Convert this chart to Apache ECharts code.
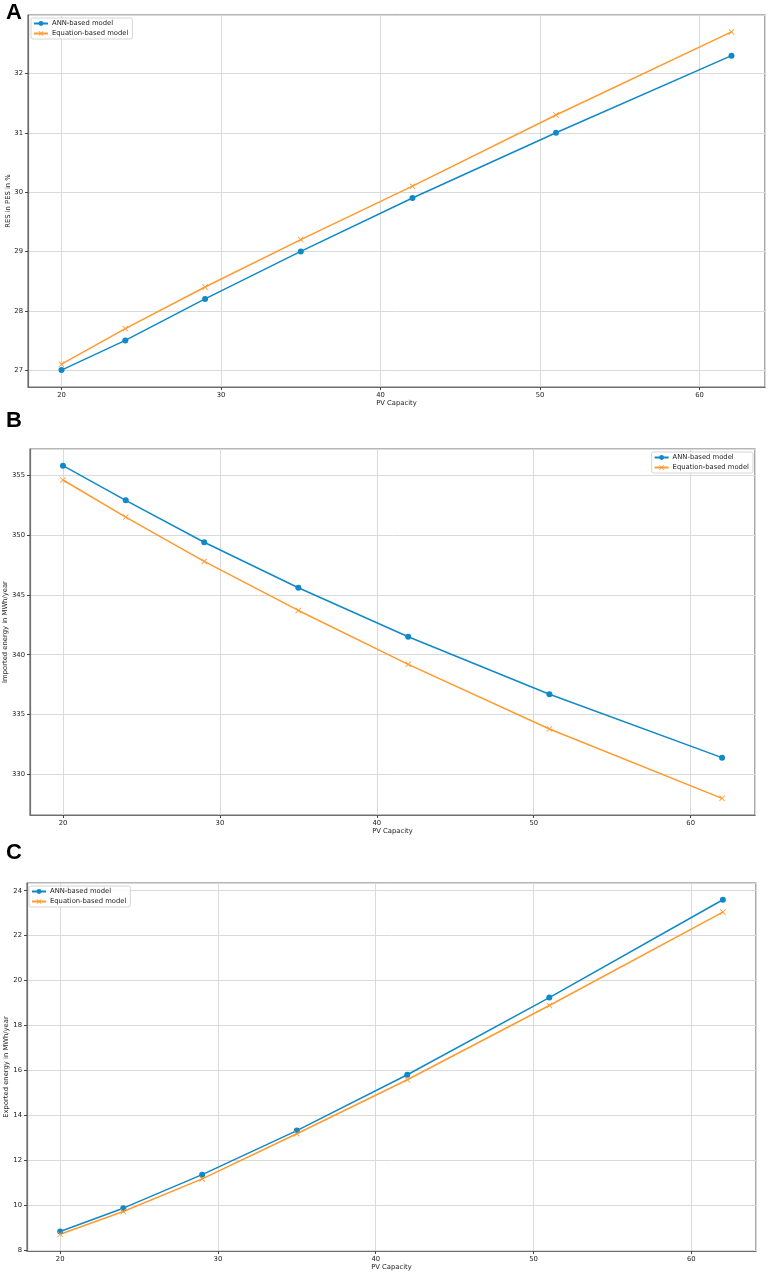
<!DOCTYPE html>
<html>
<head>
<meta charset="utf-8">
<script src="https://cdn.jsdelivr.net/npm/echarts@6/dist/echarts.min.js"></script>
<style>
  html, body { margin: 0; padding: 0; background: #fff; }
  #chart { width: 768px; height: 1274px; }
</style>
</head>
<body>
<div id="chart"></div>
<script>
const pvCapacity = [20, 24, 29, 35, 42, 51, 62];

const resAnn = [27.0, 27.5, 28.2, 29.0, 29.9, 31.0, 32.3];
const resEq = [27.1, 27.7, 28.4, 29.2, 30.1, 31.3, 32.7];

const importedAnn = [355.8, 352.9, 349.4, 345.6, 341.5, 336.7, 331.4];
const importedEq = [354.6, 351.5, 347.8, 343.7, 339.2, 333.8, 328.0];

const exportedAnn = [8.85, 9.89, 11.38, 13.34, 15.82, 19.25, 23.6];
const exportedEq = [8.73, 9.74, 11.19, 13.2, 15.6, 18.9, 23.05];

const seriesNames = ["ANN-based model", "Equation-based model"];
const panelLetters = ["A", "B", "C"];
const yNames = ["RES in PES in %", "Imported energy in MWh/year", "Exported energy in MWh/year"];
const xName = "PV Capacity";

const BLUE = "#0f89c8";
const ORANGE = "#ff9a2e";
const FONT = "DejaVu Sans";
const FS = 6.8;
const X_MARK = "path://M1,0L5,4L9,0L10,1L6,5L10,9L9,10L5,6L1,10L0,9L4,5L0,1Z";

// matplotlib style 5% margins
function pad(arrs) {
  const all = [].concat(...arrs);
  const lo = Math.min(...all), hi = Math.max(...all);
  const m = (hi - lo) * 0.05;
  return [lo - m, hi + m];
}

const xr = pad([pvCapacity]);
const panels = [
  { ann: resAnn, eq: resEq, step: 1, grid: { left: 28, right: 3, top: 15, bottom: 887 },
    legend: { left: 31, top: 18 }, nameGap: 16.5 },
  { ann: importedAnn, eq: importedEq, step: 5, grid: { left: 30, right: 13, top: 449, bottom: 459 },
    legend: { right: 15, top: 452 }, nameGap: 21 },
  { ann: exportedAnn, eq: exportedEq, step: 2, grid: { left: 27, right: 12, top: 883, bottom: 23 },
    legend: { left: 29, top: 886 }, nameGap: 17 }
];

const chart = echarts.init(document.getElementById("chart"));

const axisCommon = {
  type: "value",
  nameMoveOverlap: false,
  axisLine: { show: true, lineStyle: { color: "#6e6e6e", width: 1.2 } },
  axisTick: { show: true, length: 3, lineStyle: { color: "#444" } },
  axisLabel: { color: "#222", fontSize: FS, fontFamily: FONT, margin: 5, showMinLabel: false, showMaxLabel: false },
  splitLine: { show: true, lineStyle: { color: "#dadada", width: 1 } },
  nameTextStyle: { color: "#222", fontSize: FS, fontFamily: FONT }
};

const grids = [], xAxes = [], yAxes = [], legends = [], series = [], graphics = [];
const letterTops = [2, 410, 842];

panels.forEach((p, i) => {
  const yr = pad([p.ann, p.eq]);
  grids.push(Object.assign({
    show: true, borderColor: "#6e6e6e", borderWidth: 1.2, backgroundColor: "#fff",
    containLabel: false, outerBoundsMode: "none"
  }, p.grid));
  xAxes.push(Object.assign({}, axisCommon, {
    gridIndex: i, min: xr[0], max: xr[1], splitNumber: 5, minInterval: 10, maxInterval: 10,
    name: xName, nameLocation: "middle", nameGap: 13
  }));
  yAxes.push(Object.assign({}, axisCommon, {
    gridIndex: i, min: yr[0], max: yr[1], splitNumber: 8, minInterval: p.step, maxInterval: p.step,
    name: yNames[i], nameLocation: "middle", nameGap: p.nameGap
  }));
  legends.push(Object.assign({
    orient: "vertical",
    data: seriesNames,
    backgroundColor: "rgba(255,255,255,0.85)",
    borderColor: "#d6d6d6",
    borderWidth: 1,
    borderRadius: 2,
    padding: [2, 4, 2, 2],
    itemWidth: 14,
    itemHeight: 6,
    itemGap: 3,
    textStyle: { fontSize: FS, fontFamily: FONT, color: "#222", padding: [0, 0, 0, -1] }
  }, p.legend));
  series.push({
    name: seriesNames[0], type: "line", xAxisIndex: i, yAxisIndex: i,
    data: pvCapacity.map((x, k) => [x, p.ann[k]]),
    symbol: "circle", symbolSize: 6, showAllSymbol: true,
    lineStyle: { color: BLUE, width: 1.5 }, itemStyle: { color: BLUE },
    animation: false
  });
  series.push({
    name: seriesNames[1], type: "line", xAxisIndex: i, yAxisIndex: i,
    data: pvCapacity.map((x, k) => [x, p.eq[k]]),
    symbol: X_MARK, symbolSize: 6, showAllSymbol: true,
    lineStyle: { color: ORANGE, width: 1.5 }, itemStyle: { color: ORANGE },
    animation: false
  });
  graphics.push({
    type: "text", left: 6, top: letterTops[i],
    style: { text: panelLetters[i], font: "bold 22px 'Liberation Sans', Arial, sans-serif", fill: "#000" }
  });
});

chart.setOption({
  animation: false,
  grid: grids,
  xAxis: xAxes,
  yAxis: yAxes,
  legend: legends,
  series: series,
  graphic: graphics
});
</script>
</body>
</html>
